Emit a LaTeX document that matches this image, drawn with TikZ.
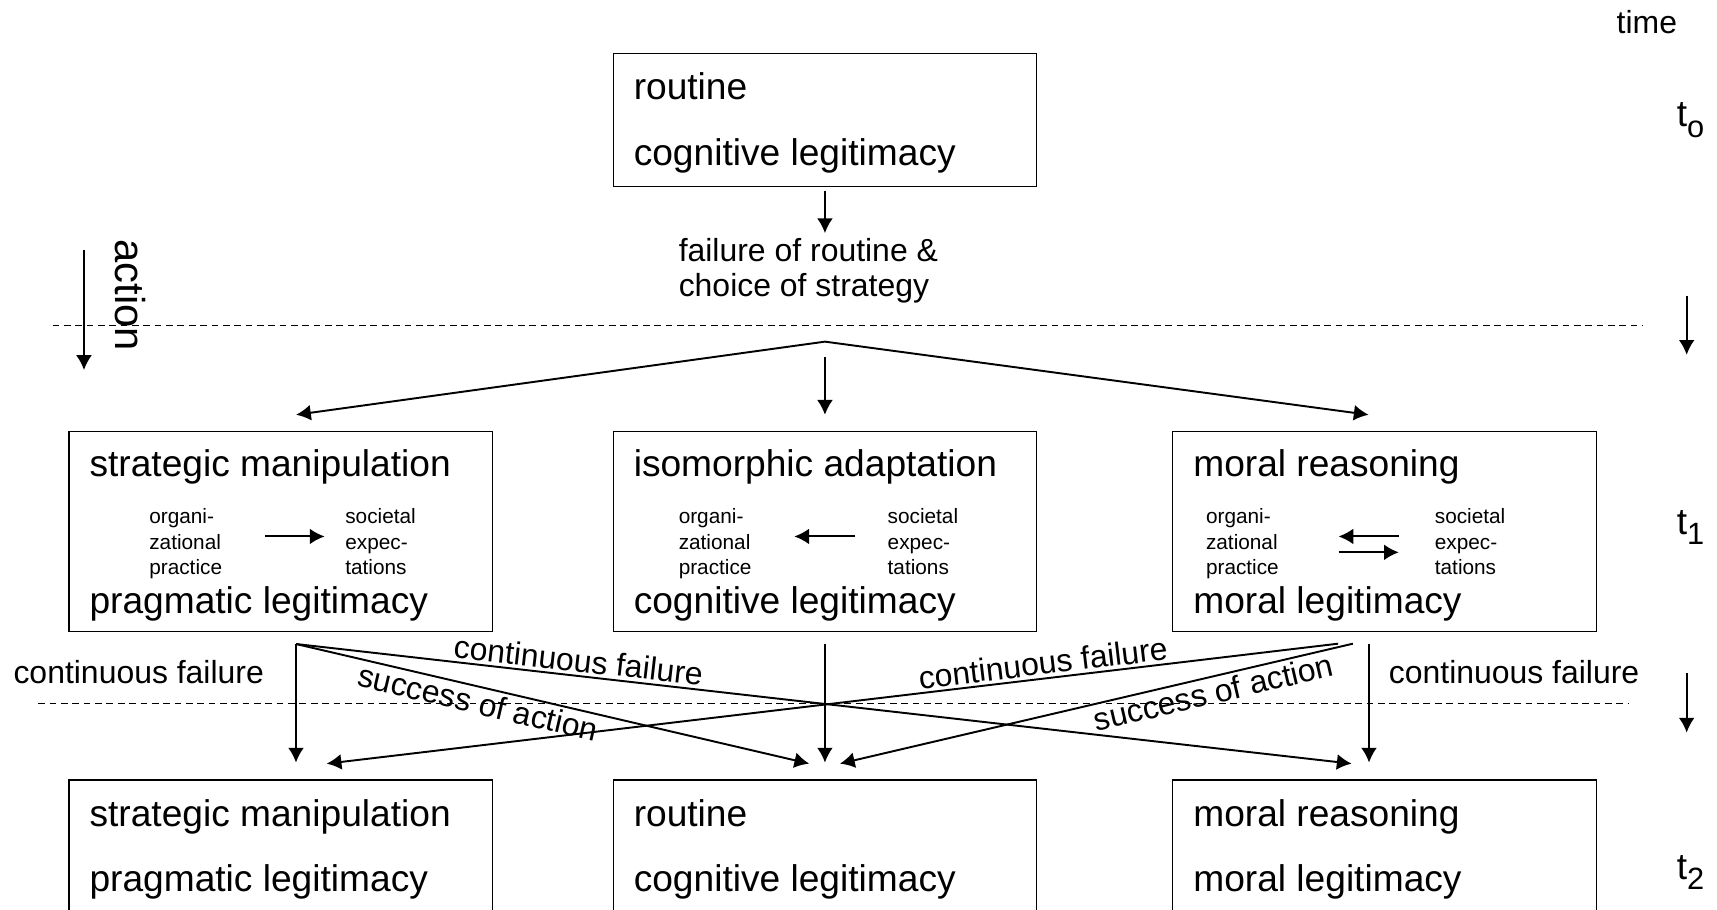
\documentclass[tikz,border=0pt]{standalone}
\usepackage{fontspec}
\setmainfont{Liberation Sans}
\usetikzlibrary{positioning, arrows.meta}

\begin{document}
\begin{tikzpicture}[>={Latex[length=2.7mm,width=2.9mm]},
	box/.style={draw, line width=0.7pt, minimum width=7.734cm, inner sep=0pt},
	headtxt/.style={font=\fontsize{19.3}{23}\selectfont, anchor=base west, inner sep=0pt},
	labeltxt/.style={font=\fontsize{16.6}{19}\selectfont, inner sep=0pt},
	notetxt/.style={font=\fontsize{10.8}{13}\selectfont, anchor=base west, inner sep=0pt},
	arr/.style={->, line width=1pt},
	sep/.style={line width=0.5pt, dash pattern=on 3.5pt off 2.4pt}]

		      \useasboundingbox (0,0) rectangle (31.36,16.62);
		      \fill[white] (0,0) rectangle (31.36,16.62);
		      \clip (0,0) rectangle (31.36,16.62);

		      \node[box, minimum height=2.432cm] (rtBox) at (15.067,14.424) {};
		      \node[headtxt] (rtName) at (11.568,14.794) {routine};
		      \node[headtxt] (rtLegit) at (11.568,13.606) {cognitive legitimacy};
		      \node[labeltxt, anchor=base west] (fail1) at (12.39,11.84) {failure of routine \&};
		      \node[labeltxt, anchor=base west] (fail2) at (12.39,11.2) {choice of strategy};
		      \coordinate (failTop) at (15.067,12.362);
		      \draw[arr] ([yshift=-0.058cm]rtBox.south) -- (failTop);

		      \draw[sep] (0.96,10.68) -- (30.0,10.68);
		      \draw[sep] (0.7,3.78) -- (29.76,3.78);

		      \coordinate (actTop) at (1.534,12.054);
		      \coordinate (actEnd) at (1.534,9.862);
		      \draw[arr] (actTop) -- (actEnd);
		      \node[font=\fontsize{21.7}{24}\selectfont, inner sep=0pt, rotate=-90] (action) at (2.39,11.228) {action};

		      \node[labeltxt, anchor=base west] (time) at (29.52,16.01) {time};
		      \node[headtxt] (t0) at (30.62,14.306) {t\raisebox{-0.19cm}{\fontsize{16}{16}\selectfont o}};
		      \node[headtxt] (t1) at (30.62,6.86) {t\raisebox{-0.19cm}{\fontsize{16}{16}\selectfont 1}};
		      \node[headtxt] (t2) at (30.62,0.56) {t\raisebox{-0.19cm}{\fontsize{16}{16}\selectfont 2}};
		      \coordinate (tA1) at (30.806,11.22);
		      \coordinate (tA2) at (30.806,10.14);
		      \coordinate (tB1) at (30.806,4.32);
		      \coordinate (tB2) at (30.806,3.24);
		      \draw[arr] (tA1) -- (tA2);
		      \draw[arr] (tB1) -- (tB2);

		      \node[box, minimum height=3.648cm] (manip) at (5.127,6.912) {};
		      \node[box, minimum height=3.648cm] (iso) at (15.067,6.912) {};
		      \node[box, minimum height=3.648cm] (moral) at (25.287,6.912) {};
		      \node[headtxt] (manipName) at (1.628,7.92) {strategic manipulation};
		      \node[headtxt] (manipLegit) at (1.628,5.418) {pragmatic legitimacy};
		      \node[headtxt] (isoName) at (11.568,7.92) {isomorphic adaptation};
		      \node[headtxt] (isoLegit) at (11.568,5.418) {cognitive legitimacy};
		      \node[headtxt] (moralName) at (21.788,7.92) {moral reasoning};
		      \node[headtxt] (moralLegit) at (21.788,5.418) {moral legitimacy};

		      \foreach \o/\s/\n in {2.72/6.30/L, 12.39/16.206/C, 22.02/26.2/R}{
		      	\node[notetxt] (org\n1) at (\o,7.05) {organi-};
		      	\node[notetxt] (org\n2) at (\o,6.592) {zational};
		      	\node[notetxt] (org\n3) at (\o,6.136) {practice};
		      	\node[notetxt] (soc\n1) at (\s,7.05) {societal};
		      	\node[notetxt] (soc\n2) at (\s,6.592) {expec-};
		      	\node[notetxt] (soc\n3) at (\s,6.136) {tations};
		      }
		      \draw[arr] ([shift={(3.6,-0.09)}]manip.west) -- ([shift={(4.68,-0.09)}]manip.west);
		      \draw[arr] ([shift={(4.434,-0.09)}]iso.west) -- ([shift={(3.32,-0.09)}]iso.west);
		      \draw[arr] ([shift={(4.14,-0.09)}]moral.west) -- ([shift={(3.04,-0.09)}]moral.west);
		      \draw[arr] ([shift={(3.04,-0.38)}]moral.west) -- ([shift={(4.14,-0.38)}]moral.west);

		      \coordinate (split) at (15.067,10.38);
		      \draw[arr] (split) -- ([shift={(0.28,0.296)}]manip.north);
		      \draw[arr] (split) -- ([shift={(-0.29,0.296)}]moral.north);
		      \draw[arr] ([yshift=-0.274cm]split) -- ([yshift=0.296cm]iso.north);

		      \node[box, minimum height=3cm] (manip2) at (5.127,0.874) {};
		      \node[box, minimum height=3cm] (rt2) at (15.067,0.874) {};
		      \node[box, minimum height=3cm] (moral2) at (25.287,0.874) {};
		      \node[headtxt] (manip2Name) at (1.628,1.528) {strategic manipulation};
		      \node[headtxt] (manip2Legit) at (1.628,0.34) {pragmatic legitimacy};
		      \node[headtxt] (rt2Name) at (11.568,1.528) {routine};
		      \node[headtxt] (rt2Legit) at (11.568,0.34) {cognitive legitimacy};
		      \node[headtxt] (moral2Name) at (21.788,1.528) {moral reasoning};
		      \node[headtxt] (moral2Legit) at (21.788,0.34) {moral legitimacy};

		      \coordinate (lowL) at ([shift={(0.279,-0.218)}]manip.south);
		      \coordinate (lowC) at ([yshift=-0.218cm]iso.south);
		      \coordinate (lowR) at ([shift={(-0.283,-0.218)}]moral.south);
		      \coordinate (lowRf) at ([shift={(-0.847,-0.212)}]moral.south);
		      \coordinate (lowRs) at ([shift={(-0.577,-0.212)}]moral.south);

		      \draw[arr] (lowL) -- ([shift={(0.279,0.306)}]manip2.north);
		      \draw[arr] (lowC) -- ([yshift=0.306cm]rt2.north);
		      \draw[arr] (lowR) -- ([shift={(-0.283,0.306)}]moral2.north);
		      \draw[arr] (lowL) -- node[labeltxt, sloped, above, pos=0.266, inner sep=1.5pt] (cfL) {continuous failure} ([shift={(-0.6,0.286)}]moral2.north);
		      \draw[arr] (lowL) -- node[labeltxt, sloped, below, pos=0.362, inner sep=1.5pt] (saL) {success of action} ([shift={(-0.287,0.286)}]rt2.north);
		      \draw[arr] (lowRf) -- node[labeltxt, sloped, above, pos=0.29, inner sep=1.5pt] (cfR) {continuous failure} ([shift={(0.839,0.286)}]manip2.north);
		      \draw[arr] (lowRs) -- node[labeltxt, sloped, below, pos=0.279, inner sep=1.5pt] (saR) {success of action} ([shift={(0.273,0.286)}]rt2.north);

		      \node[labeltxt, anchor=base west] (cfOutL) at (0.24,4.128) {continuous failure};
		      \node[labeltxt, anchor=base west] (cfOutR) at (25.36,4.128) {continuous failure};

	      \end{tikzpicture}
\end{document}
